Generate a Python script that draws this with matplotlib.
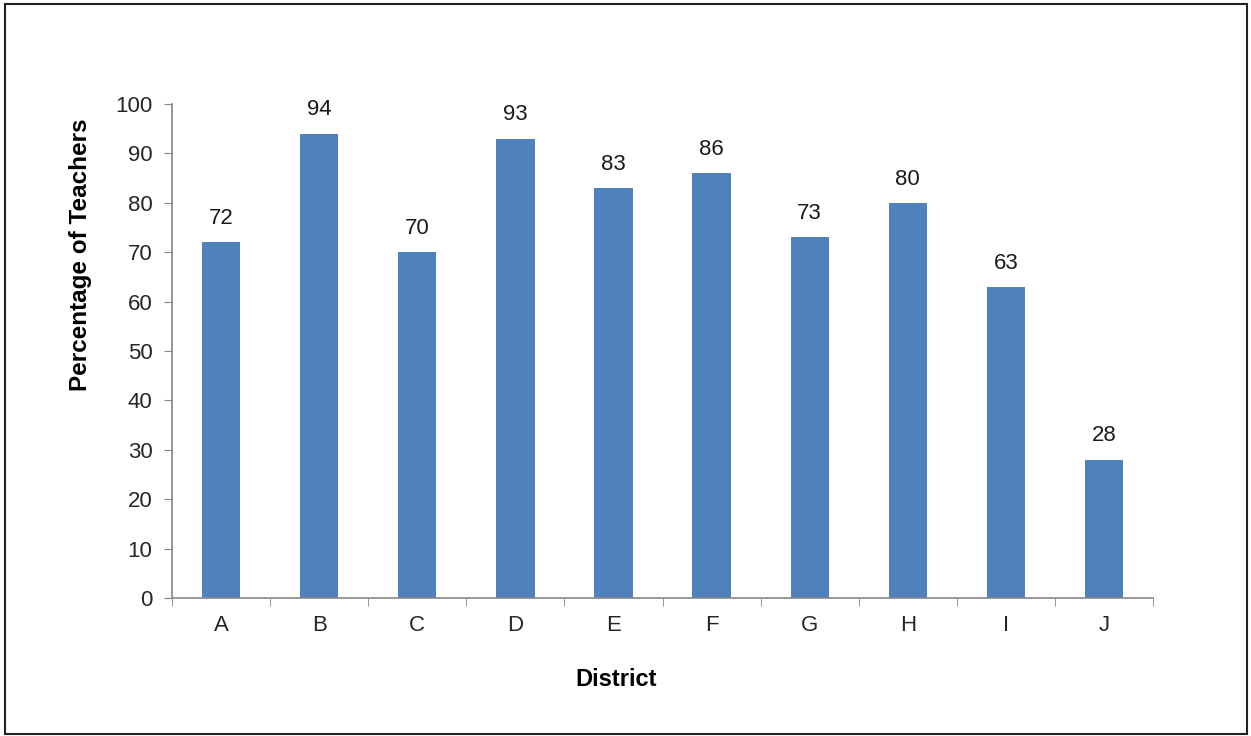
import matplotlib.pyplot as plt
from matplotlib.patches import Rectangle

# District data
districts = ['A', 'B', 'C', 'D', 'E', 'F', 'G', 'H', 'I', 'J']
percentages = [72, 94, 70, 93, 83, 86, 73, 80, 63, 28]

plt.rcParams['font.family'] = ['Liberation Sans', 'DejaVu Sans']

fig = plt.figure(figsize=(12.51, 7.36), dpi=100)
ax = fig.add_axes([0.1375, 0.1875, 0.7842, 0.6713])

x = range(len(districts))
bars = ax.bar(x, percentages, width=0.39, color='#4F81BD', zorder=2)

# value labels above bars
for rect, val in zip(bars, percentages):
    ax.annotate(str(val), (rect.get_x() + rect.get_width() / 2, rect.get_height()),
                xytext=(0, 9.5), textcoords='offset points', ha='center', va='bottom',
                fontsize=16, color='#1a1a1a')

ax.set_xlim(-0.5, len(districts) - 0.5)
ax.set_ylim(0, 100)
ax.set_yticks(range(0, 101, 10))
ax.set_xticks(list(x))
ax.set_xticklabels(districts)
# category boundary ticks
ax.set_xticks([i - 0.5 for i in range(len(districts) + 1)], minor=True)
ax.tick_params(axis='x', which='major', length=0, pad=12, labelsize=16, labelcolor='#262626')
ax.tick_params(axis='x', which='minor', length=6, color='#868686', direction='out')
ax.tick_params(axis='y', length=6, color='#868686', direction='out', pad=8, labelsize=16, labelcolor='#262626')

for side in ['top', 'right']:
    ax.spines[side].set_visible(False)
for side in ['left', 'bottom']:
    ax.spines[side].set_color('#868686')
    ax.spines[side].set_linewidth(1.2)

ax.set_xlabel('District', fontsize=17, fontweight='bold')
ax.xaxis.set_label_coords(0.4526, -0.142)
ax.set_ylabel('Percentage of Teachers', fontsize=17.5, fontweight='bold')
ax.yaxis.set_label_coords(-0.0815, 0.694)

# outer frame
fig.patches.append(Rectangle((0.004, 0.003), 0.993, 0.992, transform=fig.transFigure,
                             fill=False, edgecolor='#222222', linewidth=1.5))

plt.savefig('out.png', dpi=100)
